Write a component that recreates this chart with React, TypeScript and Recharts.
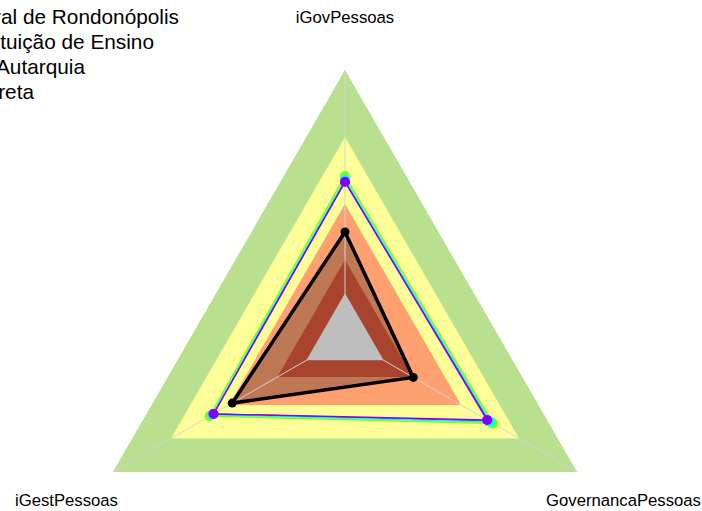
import React from 'react';
import { RadarChart, Radar, PolarAngleAxis, PolarRadiusAxis } from 'recharts';

const categories = ['iGovPessoas', 'GovernancaPessoas', 'iGestPessoas'];

// background maturity bands (value levels on the index scale)
const bandLevels = [1.0, 0.7, 0.4, 0.15, 0];
const bandColors = ['#B8E08E', '#FFFF99', '#FFA070', '#A8432D', '#BEBEBE'];

// series values, one per category
const redValues = [0.5, 0.545, 0.481];
const greenValues = [0.525, 0.566, 0.5];
const cyanValues = [0.51, 0.552, 0.487];
const purpleValues = [0.5, 0.535, 0.48];
const blackValues = [0.275, 0.153, 0.383];

const seriesKeys = ['red', 'green', 'cyan', 'purple'];
const seriesColors = ['#FF0000', '#80FF00', '#00FFFF', '#8000FF'];
const seriesValues = [redValues, greenValues, cyanValues, purpleValues];

const legendLabels = [
  'Universidade Federal de Rondonópolis',
  'Instituição de Ensino',
  'Autarquia',
  'Administração Direta',
];
const legendRightEdges = [179, 154, 85, 34];

const data = categories.map((c, i) => {
  const row: Record<string, any> = { category: c };
  bandLevels.forEach((b, j) => {
    row['band' + j] = b;
  });
  seriesKeys.forEach((k, j) => {
    row[k] = seriesValues[j][i];
  });
  row.black = blackValues[i];
  return row;
});

const FONT = '"Liberation Sans", Arial, sans-serif';

const AngleTick = (props: any) => {
  const { x, y, payload } = props;
  return (
    <text x={x} y={y} dy={1.5} textAnchor="middle" dominantBaseline="central" fontFamily={FONT} fontSize={16.7} fill="#000">
      {payload.value}
    </text>
  );
};

// radial axis lines drawn from the centre to each outer vertex
const SpokeShape = (props: any) => {
  const pts = props.points || [];
  return (
    <g>
      {pts.map((p: any, i: number) => (
        <line key={i} x1={p.cx} y1={p.cy} x2={p.x} y2={p.y} stroke="#D3D3D3" strokeWidth={1} />
      ))}
    </g>
  );
};

export default function App() {
  return (
    <div style={{ position: 'absolute', left: 0, top: 0, width: 702, height: 511, background: '#fff' }}>
      <RadarChart
        width={702}
        height={511}
        data={data}
        cx={345}
        cy={338}
        outerRadius={268}
        margin={{ top: 0, right: 0, bottom: 0, left: 0 }}
      >
        <PolarRadiusAxis domain={[-0.2, 1]} type="number" tick={false} axisLine={false} />
        <PolarAngleAxis dataKey="category" tick={AngleTick} tickLine={false} axisLine={false} tickSize={53.6} />
        {[0, 1, 2].map((j) => (
          <Radar
            key={'band' + j}
            dataKey={'band' + j}
            fill={bandColors[j]}
            fillOpacity={1}
            stroke="none"
            dot={false}
            isAnimationActive={false}
          />
        ))}
        <Radar dataKey="black" fill="#000" fillOpacity={0.25} stroke="none" dot={false} isAnimationActive={false} />
        <Radar dataKey="band3" fill={bandColors[3]} fillOpacity={1} stroke="none" dot={false} isAnimationActive={false} />
        <Radar dataKey="band0" shape={SpokeShape} dot={false} isAnimationActive={false} />
        <Radar dataKey="band4" fill={bandColors[4]} fillOpacity={1} stroke="none" dot={false} isAnimationActive={false} />
        {seriesKeys.map((k, j) => (
          <Radar
            key={k}
            dataKey={k}
            fill="none"
            fillOpacity={0}
            stroke={seriesColors[j]}
            strokeWidth={1.5}
            dot={{ r: 5, fill: seriesColors[j], stroke: 'none', fillOpacity: 1 }}
            isAnimationActive={false}
          />
        ))}
        <Radar
          dataKey="black"
          fill="none"
          fillOpacity={0}
          stroke="#000"
          strokeWidth={3.5}
          dot={{ r: 4.5, fill: '#000', stroke: 'none', fillOpacity: 1 }}
          isAnimationActive={false}
        />
      </RadarChart>
      <svg width={702} height={511} style={{ position: 'absolute', left: 0, top: 0, pointerEvents: 'none' }}>
        {legendLabels.map((l, i) => (
          <text key={l} x={legendRightEdges[i]} y={24 + i * 25} textAnchor="end" fontFamily={FONT} fontSize={20.8} fill="#000">
            {l}
          </text>
        ))}
      </svg>
    </div>
  );
}
